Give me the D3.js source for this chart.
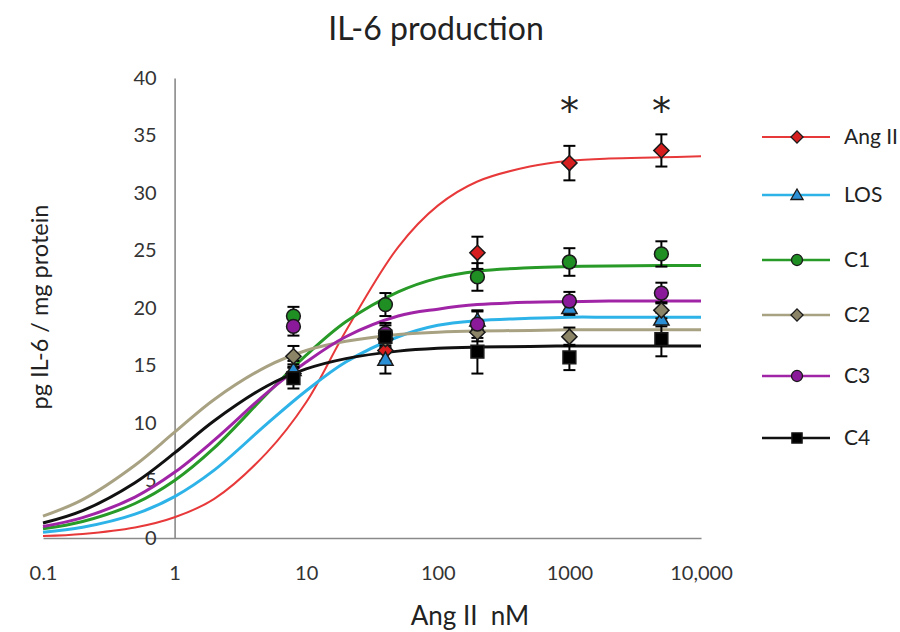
<!DOCTYPE html>
<html>
<head>
<meta charset="utf-8">
<script src="https://cdn.jsdelivr.net/npm/d3@7"></script>
<style>
  html, body { margin: 0; padding: 0; background: #fff; }
  svg { display: block; font-family: Lato, "Noto Sans", sans-serif; }
</style>
</head>
<body>
<svg id="chart" width="900" height="632"></svg>
<script>
// ---- data ----
const seriesNames = ["Ang II", "LOS", "C1", "C2", "C3", "C4"];
const doses = [8, 40, 200, 1000, 5000];           // nM, measured points

const angMeans = [14.3, 16.3, 24.8, 32.6, 33.7];
const angErr   = [0.8, 0.9, 1.4, 1.5, 1.4];
const losMeans = [14.6, 15.5, 18.9, 20.0, 19.0];
const losErr   = [0.8, 1.2, 0.8, 0.6, 0.6];
const c1Means  = [19.3, 20.3, 22.7, 24.0, 24.7];
const c1Err    = [0.8, 1.0, 1.2, 1.2, 1.1];
const c2Means  = [15.8, 17.3, 17.9, 17.5, 19.8];
const c2Err    = [0.9, 0.8, 0.8, 0.8, 0.7];
const c3Means  = [18.4, 17.8, 18.6, 20.6, 21.3];
const c3Err    = [0.8, 0.9, 1.2, 0.8, 0.9];
const c4Means  = [13.9, 17.5, 16.2, 15.7, 17.3];
const c4Err    = [0.9, 1.0, 1.9, 1.1, 1.5];

// fitted dose-response curves, sampled along the dose axis
const curveDoses = [0.1, 0.2, 0.5, 1, 2, 5, 10, 20, 50, 100, 200, 500, 1000, 2000, 5000, 10000];
const angCurve = [0.17, 0.35, 0.91, 1.80, 3.40, 7.40, 11.8, 18.0, 25.3, 28.9, 31.0, 32.3, 32.8, 33.0, 33.1, 33.2];
const losCurve = [0.50, 0.93, 2.07, 3.60, 5.90, 9.90, 12.8, 15.3, 17.5, 18.5, 18.9, 19.1, 19.2, 19.2, 19.2, 19.2];
const c1Curve  = [0.80, 1.43, 3.00, 5.00, 7.83, 12.5, 15.9, 18.8, 21.4, 22.6, 23.2, 23.5, 23.6, 23.65, 23.7, 23.7];
const c2Curve  = [1.90, 3.34, 6.33, 9.20, 12.05, 14.9, 16.3, 17.1, 17.7, 17.9, 18.0, 18.05, 18.1, 18.1, 18.1, 18.1];
const c3Curve  = [1.00, 1.77, 3.56, 5.71, 8.51, 12.6, 15.3, 17.5, 19.3, 19.9, 20.3, 20.5, 20.55, 20.6, 20.6, 20.6];
const c4Curve  = [1.30, 2.38, 4.81, 7.40, 10.2, 13.2, 14.7, 15.6, 16.25, 16.5, 16.6, 16.65, 16.7, 16.7, 16.7, 16.7];

const xTicks = [0.1, 1, 10, 100, 1000, 10000];
const xTickLabels = ["0.1", "1", "10", "100", "1000", "10,000"];
const yTicks = [0, 5, 10, 15, 20, 25, 30, 35, 40];
const starDoses = [1000, 5000];

// ---- styling per series ----
const style = {
  "Ang II": { line: "#e8393a", fill: "#d61e1e", width: 2,   shape: "diamond" },
  "LOS":    { line: "#2db3e8", fill: "#2b8fd6", width: 3,   shape: "triangle" },
  "C1":     { line: "#279a27", fill: "#1f8f24", width: 3,   shape: "circle" },
  "C2":     { line: "#a8a283", fill: "#8b8466", width: 3,   shape: "diamond" },
  "C3":     { line: "#a024a6", fill: "#8a1a99", width: 3,   shape: "circle" },
  "C4":     { line: "#111111", fill: "#000000", width: 3,   shape: "square" }
};

const series = [
  { name: "Ang II", means: angMeans, err: angErr, curve: angCurve },
  { name: "LOS",    means: losMeans, err: losErr, curve: losCurve },
  { name: "C1",     means: c1Means,  err: c1Err,  curve: c1Curve },
  { name: "C2",     means: c2Means,  err: c2Err,  curve: c2Curve },
  { name: "C3",     means: c3Means,  err: c3Err,  curve: c3Curve },
  { name: "C4",     means: c4Means,  err: c4Err,  curve: c4Curve }
];

// ---- scales ----
const x = d3.scaleLog().domain([0.1, 10000]).range([43, 701]);
const y = d3.scaleLinear().domain([0, 40]).range([538, 78]);

const svg = d3.select("#chart");

// marker path generator
function markerPath(shape, big) {
  const k = big ? 1 : 0.8;
  if (shape === "circle")   return d3.symbol(d3.symbolCircle, 150 * k * k)();
  if (shape === "square")   return d3.symbol(d3.symbolSquare, 165 * k * k)();
  if (shape === "diamond")  return d3.symbol(d3.symbolSquare, 115 * k * k)();
  if (shape === "triangle") return d3.symbol(d3.symbolTriangle, 100 * k * k)();
}
function markerTransform(shape, px, py) {
  return shape === "diamond"
    ? `translate(${px},${py}) rotate(45)`
    : (shape === "triangle" ? `translate(${px},${py + 1})` : `translate(${px},${py})`);
}

// ---- axes ----
const xAxis = d3.axisBottom(x)
  .tickValues(xTicks)
  .tickSize(0)
  .tickPadding(28)
  .tickFormat((d, i) => xTickLabels[i]);
const gx = svg.append("g").attr("transform", `translate(0,${y(0)})`).call(xAxis);

const yAxis = d3.axisLeft(y)
  .tickValues(yTicks)
  .tickSize(0)
  .tickPadding(18)
  .tickFormat(d3.format("d"));
const gy = svg.append("g").attr("transform", `translate(${x(1)},0)`).call(yAxis);

[gx, gy].forEach(g => {
  g.select(".domain").attr("stroke", "#8a8a8a").attr("stroke-width", 1.6);
  g.selectAll("text").attr("font-size", 20).attr("fill", "#333").attr("font-family", "Lato, sans-serif");
});

// ---- fitted curves ----
const line = d3.line()
  .x(d => x(d[0]))
  .y(d => y(d[1]))
  .curve(d3.curveCatmullRom.alpha(0.5));

const plot = svg.append("g");
series.forEach(s => {
  plot.append("path")
    .datum(curveDoses.map((d, i) => [d, s.curve[i]]))
    .attr("fill", "none")
    .attr("stroke", style[s.name].line)
    .attr("stroke-width", style[s.name].width)
    .attr("d", line);
});

// ---- error bars + markers ----
const cap = 6;
series.forEach(s => {
  const g = plot.append("g");
  doses.forEach((d, i) => {
    const px = x(d), top = y(s.means[i] + s.err[i]), bot = y(s.means[i] - s.err[i]);
    g.append("line").attr("x1", px).attr("x2", px).attr("y1", top).attr("y2", bot)
      .attr("stroke", "#000").attr("stroke-width", 2);
    [top, bot].forEach(yy => g.append("line")
      .attr("x1", px - cap).attr("x2", px + cap).attr("y1", yy).attr("y2", yy)
      .attr("stroke", "#000").attr("stroke-width", 2));
  });
});
series.forEach(s => {
  const st = style[s.name];
  plot.append("g").selectAll("path")
    .data(doses.map((d, i) => [d, s.means[i]]))
    .join("path")
    .attr("d", markerPath(st.shape, true))
    .attr("transform", d => markerTransform(st.shape, x(d[0]), y(d[1])))
    .attr("fill", st.fill)
    .attr("stroke", "#1a1a1a")
    .attr("stroke-width", 1.5);
});

// significance markers
svg.append("g").selectAll("text")
  .data(starDoses)
  .join("text")
  .attr("x", d => x(d))
  .attr("y", 124)
  .attr("text-anchor", "middle")
  .attr("font-family", "'DejaVu Sans', sans-serif")
  .attr("font-size", 38)
  .attr("fill", "#222")
  .text("*");

// ---- titles ----
svg.append("text")
  .attr("x", 436).attr("y", 40)
  .attr("text-anchor", "middle")
  .attr("font-size", 32)
  .attr("fill", "#222")
  .text("IL-6 production");

svg.append("text")
  .attr("x", 470).attr("y", 625)
  .attr("text-anchor", "middle")
  .attr("font-size", 26)
  .attr("fill", "#222")
  .attr("xml:space", "preserve")
  .text("Ang II  nM");

svg.append("text")
  .attr("transform", "translate(48,307) rotate(-90)")
  .attr("text-anchor", "middle")
  .attr("font-size", 23.5)
  .attr("fill", "#222")
  .text("pg IL-6 / mg protein");

// ---- legend ----
const legendRowY = [137, 195, 260, 315, 376, 438];
const legend = svg.append("g");
series.forEach((s, i) => {
  const st = style[s.name];
  const ly = legendRowY[i];
  const row = legend.append("g");
  row.append("line").attr("x1", 762).attr("x2", 830).attr("y1", ly).attr("y2", ly)
    .attr("stroke", st.line).attr("stroke-width", st.width === 2 ? 2 : 2.5);
  row.append("path")
    .attr("d", markerPath(st.shape, false))
    .attr("transform", markerTransform(st.shape, 797, ly))
    .attr("fill", st.fill).attr("stroke", "#1a1a1a").attr("stroke-width", 1.3);
  row.append("text")
    .attr("x", 844).attr("y", ly).attr("dy", "0.35em")
    .attr("font-size", 21).attr("fill", "#222")
    .text(s.name);
});
</script>
</body>
</html>
